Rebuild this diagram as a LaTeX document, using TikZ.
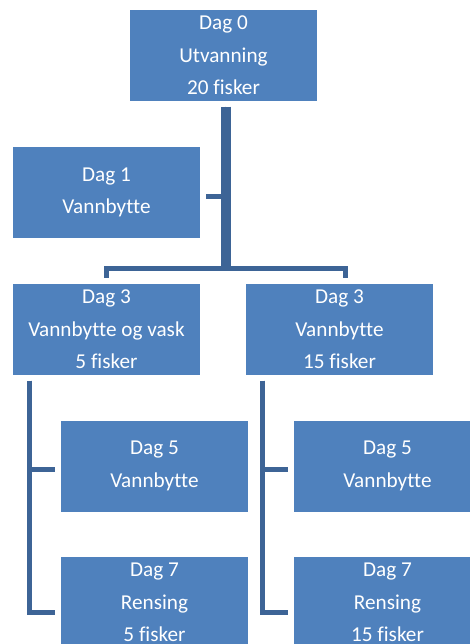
\documentclass[tikz,border=0pt]{standalone}
\usepackage{fontspec}
\setmainfont{Carlito}[Ligatures=CommonOff]
\definecolor{boxblue}{RGB}{79,129,189}
\definecolor{lineblue}{RGB}{61,100,150}
\tikzset{
  dagbox/.style={fill=boxblue, text=white, minimum width=187pt, minimum height=91pt,
    align=center, inner sep=0pt, font=\fontsize{21.2}{32.5}\selectfont},
  conn/.style={draw=lineblue, line width=5pt, shorten <=5.5pt, shorten >=5.5pt}
}
\begin{document}
\begin{tikzpicture}[x=1pt,y=-1pt]
                \useasboundingbox (0,0) rectangle (470,644);
                \clip (0,0) rectangle (470,644);
                \node[dagbox] (d0) at (223.5,55.5) {Dag 0\\Utvanning\\20 fisker};
                \node[dagbox] (d1) at (106.5,192.5) {Dag 1\\Vannbytte};
                \node[dagbox] (d3l) at (106.5,329.5) {Dag 3\\Vannbytte og vask\\5 fisker};
                \node[dagbox] (d3r) at (339.5,329.5) {Dag 3\\Vannbytte\\15 fisker};
                \node[dagbox] (d5l) at (154.5,466) {Dag 5\\Vannbytte};
                \node[dagbox] (d5r) at (387.5,466) {Dag 5\\Vannbytte};
                \node[dagbox] (d7l) at (154.5,602.5) {Dag 7\\Rensing\\5 fisker};
                \node[dagbox] (d7r) at (387.5,602.5) {Dag 7\\Rensing\\15 fisker};
                \draw[conn] (d0.south) |- ([yshift=-4pt]d1.east);
                \draw[conn] (d0.south) -- ++(0,167) -| (d3l.north);
                \draw[conn] ([xshift=5pt]d0.south) -- ++(0,167) -| ([xshift=5.5pt]d3r.north);
                \draw[conn] ([xshift=16.7pt]d3l.south west) |- ([yshift=-3pt]d5l.west);
                \draw[conn] ([xshift=16.7pt]d3l.south west) |- ([yshift=-10pt]d7l.west);
                \draw[conn] ([xshift=17pt]d3r.south west) |- ([yshift=-3pt]d5r.west);
                \draw[conn] ([xshift=17pt]d3r.south west) |- ([yshift=-10pt]d7r.west);
            \end{tikzpicture}
\end{document}
